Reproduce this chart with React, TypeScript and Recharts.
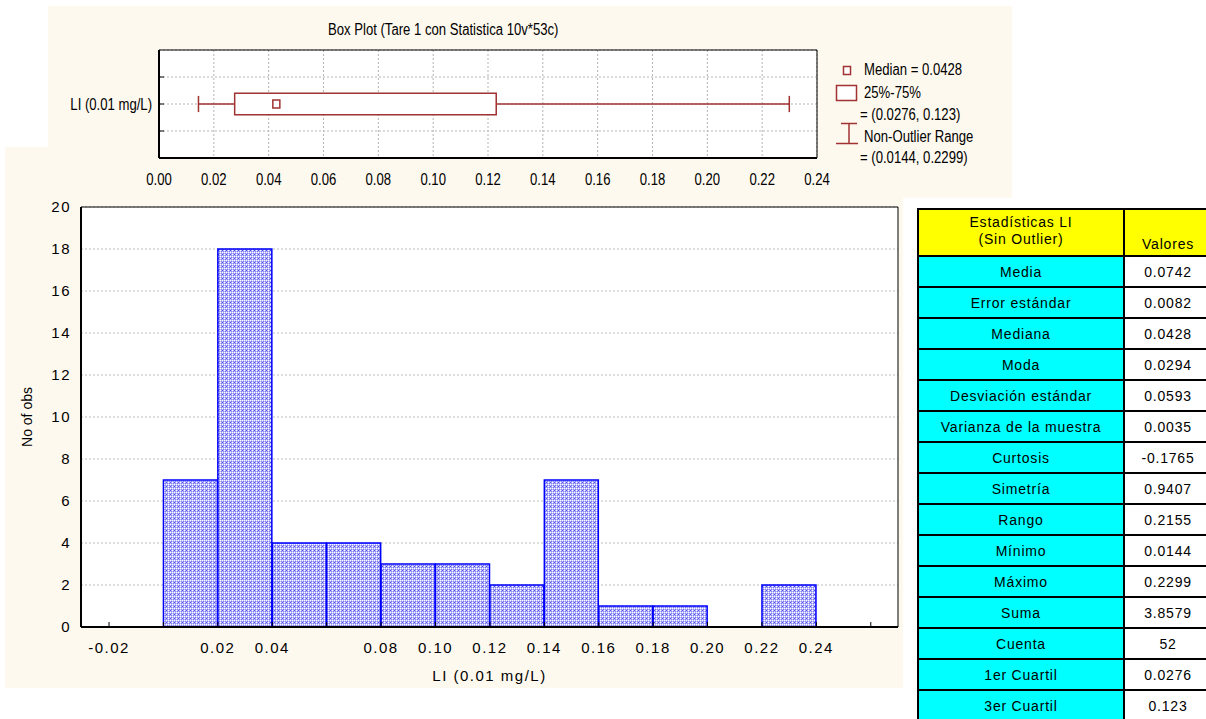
import React from 'react'
import {
  BarChart,
  Bar,
  ComposedChart,
  Scatter,
  XAxis,
  YAxis,
  CartesianGrid,
  ReferenceArea,
  ReferenceLine
} from 'recharts'

// histogram: bins of width 0.02 (centres) and their counts
const binCenters = [0.01, 0.03, 0.05, 0.07, 0.09, 0.11, 0.13, 0.15, 0.17, 0.19, 0.21, 0.23]
const binCounts = [7, 18, 4, 4, 3, 3, 2, 7, 1, 1, 0, 2]
const histXTicks = [-0.02, 0, 0.02, 0.04, 0.06, 0.08, 0.1, 0.12, 0.14, 0.16, 0.18, 0.2, 0.22, 0.24, 0.26]
const histXUnlabelled = [0, 0.06, 0.26]
const histYTicks = [0, 2, 4, 6, 8, 10, 12, 14, 16, 18, 20]

// box plot: min, q1, median, q3, max
const boxValues = [0.0144, 0.0276, 0.0428, 0.123, 0.2299]
const boxXTicks = [0, 0.02, 0.04, 0.06, 0.08, 0.1, 0.12, 0.14, 0.16, 0.18, 0.2, 0.22, 0.24]
const boxYTicks = [1, 2, 3]

// summary table
const statNames = [
  'Media', 'Error estándar', 'Mediana', 'Moda', 'Desviación estándar', 'Varianza de la muestra',
  'Curtosis', 'Simetría', 'Rango', 'Mínimo', 'Máximo', 'Suma', 'Cuenta', '1er Cuartil', '3er Cuartil'
]
const statValues = [
  '0.0742', '0.0082', '0.0428', '0.0294', '0.0593', '0.0035', '-0.1765', '0.9407',
  '0.2155', '0.0144', '0.2299', '3.8579', '52', '0.0276', '0.123'
]

const ARIAL = "'Liberation Sans', Arial, Helvetica, sans-serif"
const NARROW_SCALE = 0.82 // Arial Narrow look-alike
const BOX_RED = '#a03232'
const CREAM = '#fef9ee'
const HIST_DOMAIN = [-0.0303, 0.27]

const histData = binCenters.map((x, i) => ({ x, count: binCounts[i] }))
const [bMin, bQ1, bMed, bQ3, bMax] = boxValues
const medianPoint = [{ x: bMed, y: 2 }]

const MedianMarker = (props: any) => (
  <rect x={props.cx - 3.5} y={props.cy - 4} width={7} height={8} fill="#fff" stroke={BOX_RED} strokeWidth={1.5} />
)

// condensed tick text for the box plot
const BoxXTick = (props: any) => (
  <g transform={`translate(${props.x},${props.y})`}>
    <text transform={`scale(${NARROW_SCALE},1)`} textAnchor="middle" dy="0.71em" fontSize={16} fontFamily={ARIAL} fill="#000">
      {Number(props.payload.value).toFixed(2)}
    </text>
  </g>
)

const BoxYTick = (props: any) => (
  <g transform={`translate(${props.x},${props.y})`}>
    <text transform={`scale(${NARROW_SCALE},1)`} textAnchor="end" dy="0.355em" fontSize={16} fontFamily={ARIAL} fill="#000">
      {props.payload.value === 2 ? 'LI (0.01 mg/L)' : ''}
    </text>
  </g>
)

const YLabel = (props: any) => {
  const vb = props.viewBox || { x: 0, y: 0, height: 0 }
  const x = vb.x + 22
  const y = vb.y + vb.height / 2
  return (
    <text x={x} y={y} transform={`rotate(-90 ${x} ${y})`} textAnchor="middle" dominantBaseline="central"
      fontSize={14} fontFamily={ARIAL} fill="#000">
      No of obs
    </text>
  )
}

const narrowText = {
  position: 'absolute' as const,
  whiteSpace: 'nowrap' as const,
  lineHeight: '18px',
  transform: `scaleX(${NARROW_SCALE})`,
  transformOrigin: 'left center'
}

function BoxLegend() {
  return (
    <div style={{ position: 'absolute', left: 830, top: 56, width: 180, height: 112, fontFamily: ARIAL, fontSize: 16, color: '#000' }}>
      <svg width={30} height={112} style={{ position: 'absolute', left: 0, top: 0 }}>
        <rect x={13.5} y={10.5} width={7} height={8} fill="#fff" stroke={BOX_RED} strokeWidth={1.5} />
        <rect x={6.5} y={29.5} width={20} height={15} fill="#fff" stroke={BOX_RED} strokeWidth={1.5} />
        <line x1={11} y1={67.5} x2={27} y2={67.5} stroke={BOX_RED} strokeWidth={1.5} />
        <line x1={19} y1={67.5} x2={19} y2={87.5} stroke={BOX_RED} strokeWidth={1.5} />
        <line x1={6} y1={87.5} x2={28} y2={87.5} stroke={BOX_RED} strokeWidth={1.5} />
      </svg>
      <div style={{ ...narrowText, left: 34, top: 5 }}>Median = {bMed}</div>
      <div style={{ ...narrowText, left: 34, top: 28 }}>25%-75%</div>
      <div style={{ ...narrowText, left: 30, top: 50 }}>= ({bQ1}, {bQ3})</div>
      <div style={{ ...narrowText, left: 34, top: 72 }}>Non-Outlier Range</div>
      <div style={{ ...narrowText, left: 30, top: 93 }}>= ({bMin}, {bMax})</div>
    </div>
  )
}

function StatsTable() {
  const cell = {
    border: '2px solid #000',
    padding: 0,
    height: 29,
    textAlign: 'center' as const,
    verticalAlign: 'middle' as const,
    fontSize: 14,
    letterSpacing: '0.8px'
  }
  return (
    <table style={{ position: 'absolute', left: 917, top: 208, borderCollapse: 'collapse', fontFamily: ARIAL, color: '#000', tableLayout: 'fixed', width: 294 }}>
      <colgroup>
        <col style={{ width: 206 }} />
        <col style={{ width: 88 }} />
      </colgroup>
      <tbody>
        <tr>
          <td style={{ ...cell, height: 42, background: '#ffff00', lineHeight: '17px', paddingBottom: 3 }}>
            Estadísticas LI<br />(Sin Outlier)
          </td>
          <td style={{ ...cell, height: 42, background: '#ffff00', verticalAlign: 'bottom', paddingBottom: 3 }}>
            Valores
          </td>
        </tr>
        {statNames.map((name, i) => (
          <tr key={name}>
            <td style={{ ...cell, background: '#00ffff' }}>{name}</td>
            <td style={{ ...cell, background: '#fff' }}>{statValues[i]}</td>
          </tr>
        ))}
      </tbody>
    </table>
  )
}

export default function App() {
  return (
    <div style={{ position: 'absolute', left: 0, top: 0, width: 1206, height: 719, overflow: 'hidden', background: '#fff', fontFamily: ARIAL }}>
      <style>{`.hist .recharts-cartesian-axis-tick-value, .hist .xlab { letter-spacing: 1.5px; }`}</style>
      <svg width={0} height={0} style={{ position: 'absolute' }}>
        <defs>
          <pattern id="histFill" width={4} height={4} patternUnits="userSpaceOnUse">
            <rect width={4} height={4} fill="#b8b8fa" />
            <rect x={0} y={0} width={1} height={1} fill="#7676ee" />
            <rect x={1} y={1} width={1} height={1} fill="#ffffff" />
            <rect x={2} y={2} width={1} height={1} fill="#7676ee" />
            <rect x={3} y={3} width={1} height={1} fill="#ffffff" />
            <rect x={2} y={0} width={1} height={1} fill="#8a8af2" />
            <rect x={0} y={2} width={1} height={1} fill="#8a8af2" />
            <rect x={3} y={1} width={1} height={1} fill="#ffffff" />
            <rect x={1} y={3} width={1} height={1} fill="#4a4ae0" />
          </pattern>
        </defs>
      </svg>

      <div style={{ position: 'absolute', left: 48, top: 6, width: 964, height: 192, background: CREAM }} />
      <div style={{ position: 'absolute', left: 5, top: 147, width: 898, height: 541, background: CREAM }} />

      <div style={{ position: 'absolute', left: 48, top: 6 }}>
        <ComposedChart width={964} height={192} margin={{ top: 0, right: 190, bottom: 0, left: 0 }}>
          <CartesianGrid stroke="#b4b4b4" strokeDasharray="2 2" fill="#fff" fillOpacity={1} />
          <XAxis xAxisId="top" orientation="top" type="number" domain={[0, 0.24]} ticks={boxXTicks} height={44}
            tick={false} tickSize={-5} axisLine={{ stroke: '#000' }} tickLine={{ stroke: '#000' }} allowDataOverflow />
          <XAxis type="number" dataKey="x" domain={[0, 0.24]} ticks={boxXTicks} height={40} tickLine={false} tickSize={0}
            tickMargin={16} allowDataOverflow tick={BoxXTick} axisLine={{ stroke: '#000', strokeWidth: 2 }} />
          <YAxis type="number" dataKey="y" domain={[0, 4]} ticks={boxYTicks} width={111} tickSize={-5} tickMargin={12}
            allowDataOverflow tick={BoxYTick} axisLine={{ stroke: '#000', strokeWidth: 2 }} tickLine={{ stroke: '#000' }} />
          <YAxis yAxisId="right" orientation="right" type="number" domain={[0, 4]} ticks={boxYTicks} width={5}
            tick={false} tickSize={-5} axisLine={{ stroke: '#000' }} tickLine={{ stroke: '#000' }} />
          <ReferenceLine segment={[{ x: bMin, y: 2 }, { x: bQ1, y: 2 }]} stroke={BOX_RED} strokeWidth={1.5} />
          <ReferenceLine segment={[{ x: bQ3, y: 2 }, { x: bMax, y: 2 }]} stroke={BOX_RED} strokeWidth={1.5} />
          <ReferenceLine segment={[{ x: bMin, y: 1.7 }, { x: bMin, y: 2.3 }]} stroke={BOX_RED} strokeWidth={1.5} />
          <ReferenceLine segment={[{ x: bMax, y: 1.7 }, { x: bMax, y: 2.3 }]} stroke={BOX_RED} strokeWidth={1.5} />
          <ReferenceArea x1={bQ1} x2={bQ3} y1={1.6} y2={2.4} fill="#fff" fillOpacity={1} stroke={BOX_RED} strokeWidth={1.5} />
          <Scatter data={medianPoint} shape={MedianMarker} isAnimationActive={false} />
        </ComposedChart>
      </div>

      <div style={{ ...narrowText, left: 328, top: 21, fontSize: 16, color: '#000' }}>
        Box Plot (Tare 1 con Statistica 10v*53c)
      </div>
      <BoxLegend />

      <div className="hist" style={{ position: 'absolute', left: 5, top: 147 }}>
        <BarChart width={898} height={541} data={histData} barCategoryGap={0} barGap={0}
          margin={{ top: 0, right: 0, bottom: 0, left: 0 }}>
          <CartesianGrid vertical={false} stroke="#bdbdbd" strokeDasharray="2 2" fill="#fff" fillOpacity={1} />
          <XAxis xAxisId="top" orientation="top" type="number" domain={HIST_DOMAIN} ticks={histXTicks} height={60}
            tick={false} tickSize={-5} allowDataOverflow axisLine={{ stroke: '#000' }} tickLine={{ stroke: '#000' }} />
          <XAxis type="number" dataKey="x" domain={HIST_DOMAIN} ticks={histXTicks} height={61} tickSize={-5}
            tickMargin={20} allowDataOverflow axisLine={{ stroke: '#000', strokeWidth: 2 }} tickLine={{ stroke: '#000' }}
            tickFormatter={(v: number) => (histXUnlabelled.some((h) => Math.abs(h - v) < 1e-9) ? '' : v.toFixed(2))}
            tick={{ fontSize: 15, fill: '#000', fontFamily: ARIAL }}
            label={{ value: 'LI (0.01 mg/L)', position: 'insideBottom', offset: 7, fontSize: 15, fill: '#000', fontFamily: ARIAL, className: 'xlab' }} />
          <YAxis type="number" domain={[0, 20]} ticks={histYTicks} width={76} tickLine={false} tickSize={0}
            tickMargin={10} allowDataOverflow axisLine={{ stroke: '#000', strokeWidth: 2 }}
            tick={{ fontSize: 15, fill: '#000', fontFamily: ARIAL }} label={{ content: YLabel }} />
          <YAxis yAxisId="right" orientation="right" type="number" domain={[0, 20]} ticks={histYTicks} width={5}
            tick={false} tickSize={-5} axisLine={{ stroke: '#000' }} tickLine={{ stroke: '#000' }} />
          <Bar dataKey="count" fill="url(#histFill)" stroke="#0000ff" strokeWidth={1.5} isAnimationActive={false} />
        </BarChart>
      </div>

      <StatsTable />
    </div>
  )
}
